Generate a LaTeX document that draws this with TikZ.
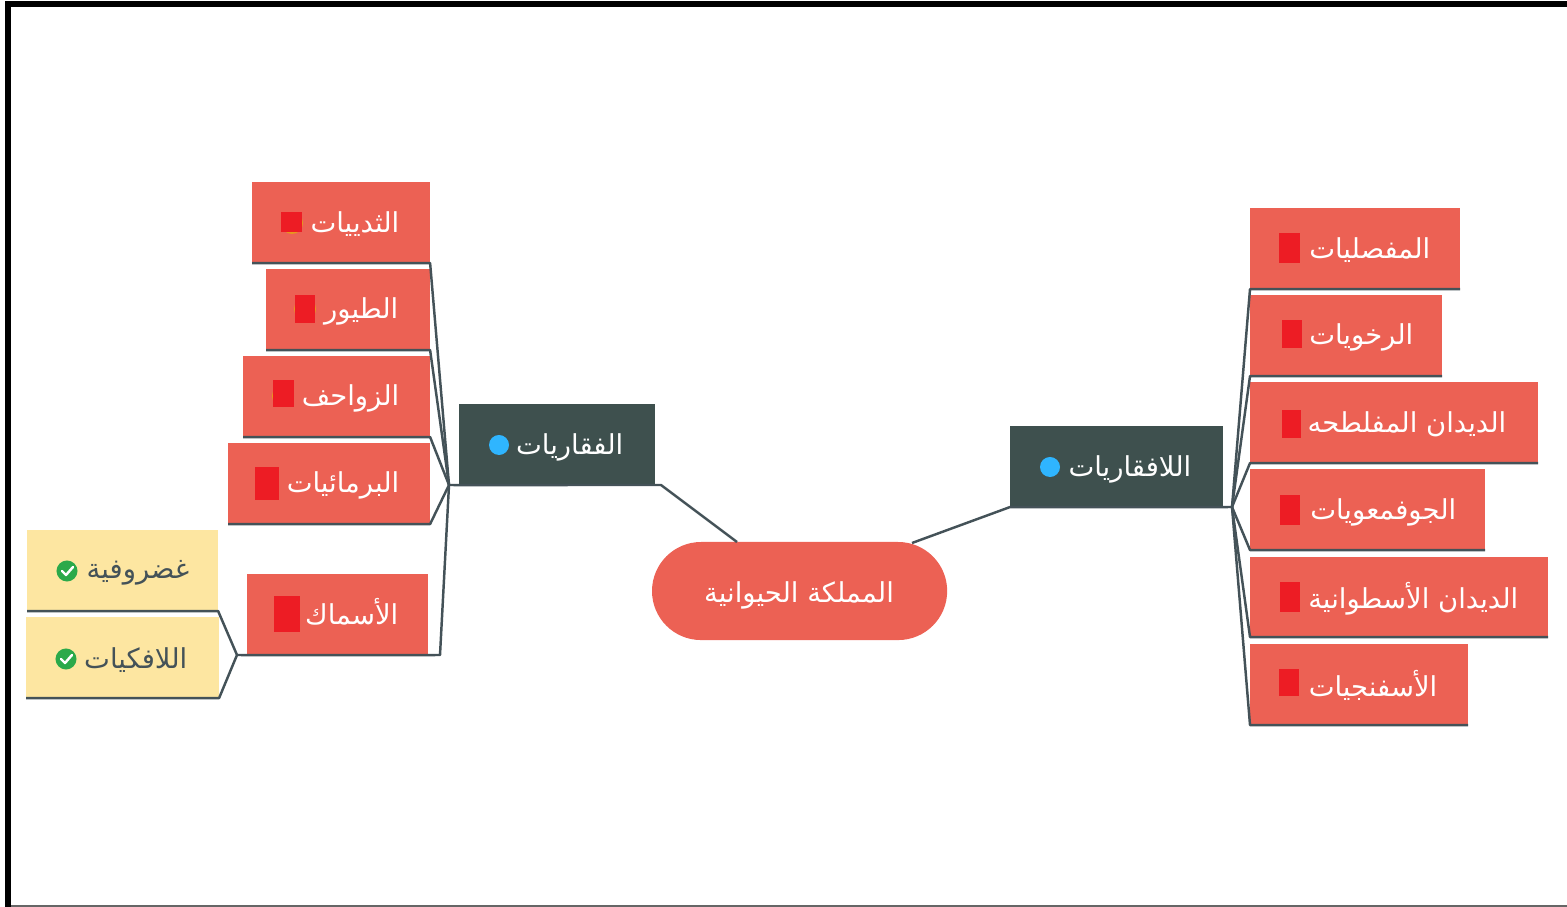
\documentclass[tikz,border=0pt]{standalone}
\usepackage{fontspec}
\usepackage{tikz}
\newfontfamily\arabicfont[Script=Arabic]{DejaVu Sans}
\TeXXeTstate=1
\definecolor{boxred}{HTML}{EC6154}
\definecolor{boxdark}{HTML}{3E504E}
\definecolor{boxyellow}{HTML}{FDE6A1}
\definecolor{linedark}{HTML}{445258}
\definecolor{iconred}{HTML}{ED1C24}
\definecolor{iconorange}{HTML}{E8951E}
\definecolor{iconblue}{HTML}{2FB5FF}
\definecolor{icongreen}{HTML}{2BA94A}
\newcommand{\ar}[1]{\beginR #1\endR}
\tikzset{
    plainbox/.style={anchor=north west, inner sep=0pt, outer sep=0pt},
    redbox/.style={plainbox, fill=boxred},
    darkbox/.style={plainbox, fill=boxdark},
    yellowbox/.style={plainbox, fill=boxyellow},
    lbl/.style={anchor=east, inner sep=0pt, text=white, font=\arabicfont\fontsize{7.8}{10}\selectfont},
    lbldark/.style={lbl, text=linedark},
    flag/.style={plainbox, fill=iconred},
    wire/.style={draw=linedark, line width=0.7pt, line join=round}
}

\begin{document}
\begin{tikzpicture}[x=0.01cm, y=-0.01cm]
    \useasboundingbox (0, 0) rectangle (1567, 907);

    % Frame
    \fill[black] (5, 1) rectangle (1567, 7);
    \fill[black] (5, 1) rectangle (11, 907);
    \fill[black!60] (11, 905) rectangle (1567, 907);

    % Vertebrates side
    \node[redbox, minimum width=1.78cm, minimum height=0.81cm] (birdsA) at (252, 182) {};
    \node[redbox, minimum width=1.64cm, minimum height=0.81cm] (birdsB) at (266, 269) {};
    \node[redbox, minimum width=1.87cm, minimum height=0.81cm] (reptiles) at (243, 356) {};
    \node[redbox, minimum width=2.02cm, minimum height=0.81cm] (amphib) at (228, 443) {};
    \node[redbox, minimum width=1.81cm, minimum height=0.81cm] (fish) at (247, 574) {};
    \node[yellowbox, minimum width=1.91cm, minimum height=0.81cm] (cartil) at (27, 530) {};
    \node[yellowbox, minimum width=1.93cm, minimum height=0.81cm] (jawless) at (26, 617) {};
    \node[darkbox, minimum width=1.96cm, minimum height=0.81cm] (vert) at (459, 404) {};

    % Centre
    \node[plainbox, fill=boxred, rounded corners=0.49cm, minimum width=2.95cm, minimum height=0.98cm] (root) at (652, 542) {};
    \node[lbl, anchor=center] (rootlbl) at (799, 595) {\ar{المملكة الحيوانية}};

    % Invertebrates side
    \node[darkbox, minimum width=2.13cm, minimum height=0.81cm] (invert) at (1010, 426) {};
    \node[redbox, minimum width=2.10cm, minimum height=0.81cm] (arthro) at (1250, 208) {};
    \node[redbox, minimum width=1.92cm, minimum height=0.81cm] (mollusc) at (1250, 295) {};
    \node[redbox, minimum width=2.88cm, minimum height=0.81cm] (flat) at (1250, 382) {};
    \node[redbox, minimum width=2.35cm, minimum height=0.81cm] (hollow) at (1250, 469) {};
    \node[redbox, minimum width=2.98cm, minimum height=0.80cm] (round) at (1250, 557) {};
    \node[redbox, minimum width=2.18cm, minimum height=0.81cm] (sponge) at (1250, 644) {};

    % Hubs
    \coordinate (hubL) at (449, 485);
    \coordinate (hubR) at (1232, 507);
    \coordinate (hubF) at (237, 655);
    \coordinate (elbowV) at (661, 485);
    \coordinate (elbowF) at (440, 655);
    \coordinate (rootL) at (737, 542);
    \coordinate (rootR) at (912, 543);

    % Connectors
    \foreach \n in {birdsA, birdsB, reptiles, amphib}{
        \draw[wire] (\n.south west) -- (\n.south east) -- (hubL);
    }
    \foreach \n in {arthro, mollusc, flat, hollow, round, sponge}{
        \draw[wire] (\n.south east) -- (\n.south west) -- (hubR);
    }
    \foreach \n in {cartil, jawless}{
        \draw[wire] (\n.south west) -- (\n.south east) -- (hubF);
    }
    \draw[wire] (hubF) -- (fish.south west) -- (fish.south east) -- (elbowF) -- (hubL);
    \draw[wire] (hubL) -- (vert.south west) -- (elbowV) -- (rootL);
    \draw[wire] (rootR) -- (invert.south west) -- (invert.south east) -- (hubR);

    % Markers
    \fill[iconorange] (292, 223) circle (0.11cm);
    \node[flag, minimum width=0.21cm, minimum height=0.20cm] (flagA) at (281, 212) {};
    \fill[iconorange] (305, 309) circle (0.11cm);
    \node[flag, minimum width=0.20cm, minimum height=0.28cm] (flagB) at (295, 295) {};
    \fill[iconorange] (283, 396) circle (0.11cm);
    \node[flag, minimum width=0.21cm, minimum height=0.27cm] (flagC) at (273, 380) {};
    \node[flag, minimum width=0.24cm, minimum height=0.33cm] (flagD) at (255, 467) {};
    \node[flag, minimum width=0.26cm, minimum height=0.36cm] (flagE) at (274, 596) {};
    \node[flag, minimum width=0.21cm, minimum height=0.30cm] (flagF) at (1279, 233) {};
    \node[flag, minimum width=0.20cm, minimum height=0.28cm] (flagG) at (1282, 320) {};
    \node[flag, minimum width=0.19cm, minimum height=0.28cm] (flagH) at (1282, 410) {};
    \node[flag, minimum width=0.20cm, minimum height=0.30cm] (flagI) at (1280, 495) {};
    \node[flag, minimum width=0.20cm, minimum height=0.30cm] (flagJ) at (1280, 582) {};
    \node[flag, minimum width=0.20cm, minimum height=0.27cm] (flagK) at (1279, 669) {};
    \fill[iconblue] (499, 445) circle (0.10cm);
    \fill[iconblue] (1050, 467) circle (0.10cm);
    \foreach \x/\y in {67/571, 66/659}{
        \fill[icongreen] (\x, \y) circle (0.105cm);
        \draw[white, line width=0.7pt, line cap=round, line join=round] (\x-5, \y) -- (\x-1, \y+4) -- (\x+6, \y-4);
    }

    % Labels
    \node[lbl] at (400, 224) {\ar{الثدييات}};
    \node[lbl] at (399, 311) {\ar{الطيور}};
    \node[lbl] at (400, 398) {\ar{الزواحف}};
    \node[lbl] at (400, 485) {\ar{البرمائيات}};
    \node[lbl] at (399, 612) {\ar{الأسماك}};
    \node[lbldark] at (190, 573) {\ar{غضروفية}};
    \node[lbldark] at (188, 660) {\ar{اللافكيات}};
    \node[lbl] at (624, 447) {\ar{الفقاريات}};
    \node[lbl] at (1192, 469) {\ar{اللافقاريات}};
    \node[lbl] at (1431, 250) {\ar{المفصليات}};
    \node[lbl] at (1414, 337) {\ar{الرخويات}};
    \node[lbl] at (1507, 424) {\ar{الديدان المفلطحه}};
    \node[lbl] at (1457, 512) {\ar{الجوفمعويات}};
    \node[lbl] at (1519, 599) {\ar{الديدان الأسطوانية}};
    \node[lbl] at (1438, 685) {\ar{الأسفنجيات}};
\end{tikzpicture}
\end{document}
